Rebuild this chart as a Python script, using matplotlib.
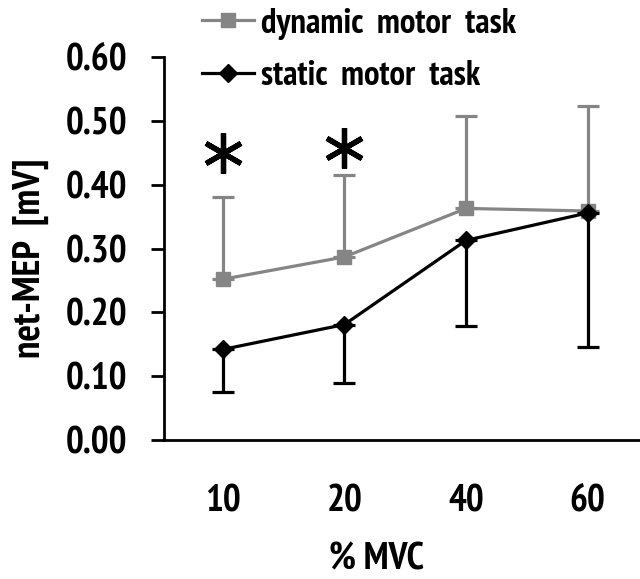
import matplotlib
matplotlib.use('Agg')
import matplotlib.pyplot as plt
from matplotlib.lines import Line2D

# valores
mvc = ['10', '20', '40', '60']
dinamica = [0.252, 0.287, 0.363, 0.359]
dinamica_sup = [0.381, 0.415, 0.508, 0.524]
estatica = [0.142, 0.181, 0.313, 0.356]
estatica_inf = [0.075, 0.090, 0.178, 0.146]
sig_x = [0, 1]
sig_y = [0.45, 0.458]

plt.rcParams['font.family'] = ['PT Sans Narrow', 'DejaVu Sans']
plt.rcParams['font.weight'] = 'bold'
plt.rcParams['axes.labelweight'] = 'bold'

fig = plt.figure(figsize=(6.4, 5.79), dpi=100)
ax = fig.add_axes([0.256, 0.2401, 0.744, 0.661])

x = list(range(len(mvc)))
cinza = '#858585'

err_d = [[0] * 4, [s - m for s, m in zip(dinamica_sup, dinamica)]]
err_e = [[m - i for m, i in zip(estatica, estatica_inf)], [0] * 4]

ax.errorbar(x, dinamica, yerr=err_d, color=cinza, marker='s', markersize=10,
            linewidth=2.3, elinewidth=2.3, capsize=8, capthick=2.3, zorder=2)
ax.errorbar(x, estatica, yerr=err_e, color='black', marker='D', markersize=9,
            linewidth=2.3, elinewidth=2.3, capsize=8, capthick=2.3, zorder=3)

# asteriscos de significancia
ax.plot(sig_x, sig_y, linestyle='none', marker=(6, 2, 0), markersize=29,
        markeredgewidth=3.8, color='black')

ax.set_xlim(-0.485, 3.43)
ax.set_ylim(0, 0.6)
ax.set_yticks([0, 0.1, 0.2, 0.3, 0.4, 0.5, 0.6])
ax.set_yticklabels(['%.2f' % v for v in ax.get_yticks()])
ax.set_xticks(x)
ax.set_xticklabels(mvc)

for s in ['top', 'right']:
    ax.spines[s].set_visible(False)
ax.spines['left'].set_linewidth(2)
ax.spines['bottom'].set_linewidth(2)

ax.tick_params(axis='y', length=9.5, width=2, labelsize=27, pad=17)
ax.tick_params(axis='x', length=0, labelsize=27, pad=32)

ax.set_xlabel('% MVC', fontsize=27)
ax.xaxis.set_label_coords(0.447, -0.313)
ax.xaxis.label.set_va('center')
ax.set_ylabel('net-MEP  [mV]', fontsize=28)
ax.yaxis.set_label_coords(-0.279, 0.476)
ax.yaxis.label.set_va('center')

handles = [Line2D([], [], color=cinza, marker='s', markersize=10, linewidth=2.3),
           Line2D([], [], color='black', marker='D', markersize=9, linewidth=2.3)]
fig.legend(handles, ['dynamic  motor  task', 'static  motor  task'],
           loc='upper left', bbox_to_anchor=(0.315, 0.987), frameon=False,
           borderpad=0, borderaxespad=0,
           fontsize=25, handlelength=1.5, handletextpad=0.2, labelspacing=0.6)

fig.savefig('out.png', dpi=100)
